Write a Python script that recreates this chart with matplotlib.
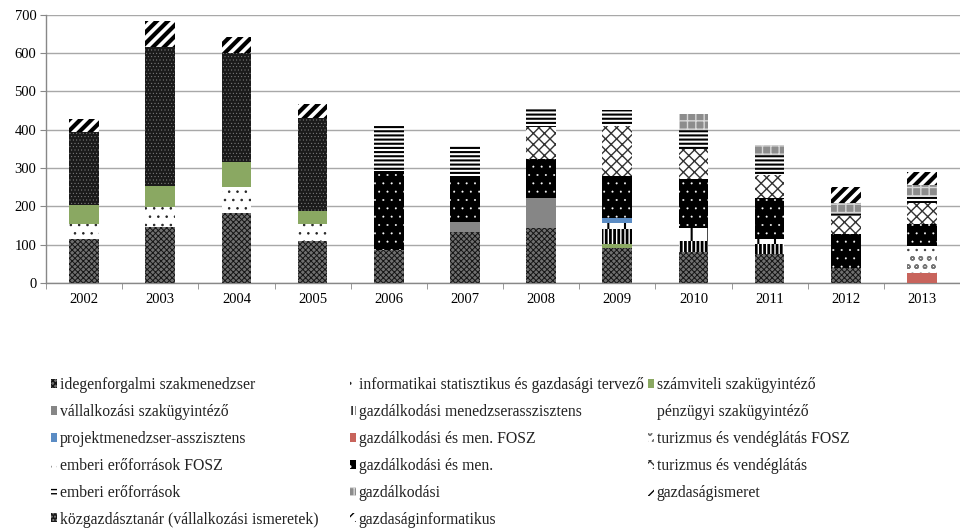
import numpy as np
import matplotlib
matplotlib.use("Agg")
import matplotlib.pyplot as plt

plt.rcParams["font.family"] = ["Liberation Serif", "DejaVu Serif"]
plt.rcParams["hatch.linewidth"] = 1.0

YEARS = ["2002", "2003", "2004", "2005", "2006", "2007",
         "2008", "2009", "2010", "2011", "2012", "2013"]

# series in stacking order (bottom -> top), one value per year
idegenforgalmi       = [115, 145, 182, 110, 86, 134, 143, 92, 81, 75, 38, 0]
informatikai         = [39, 54, 69, 44, 0, 0, 0, 0, 0, 0, 0, 0]
szamviteli           = [50, 54, 65, 34, 0, 0, 0, 11, 0, 0, 0, 0]
vallalkozasi         = [0, 0, 0, 0, 0, 26, 79, 0, 0, 0, 0, 0]
gazd_men_asszisztens = [0, 0, 0, 0, 0, 0, 0, 39, 29, 28, 0, 0]
penzugyi             = [0, 0, 0, 0, 0, 0, 0, 15, 34, 13, 0, 0]
projektmenedzser     = [0, 0, 0, 0, 0, 0, 0, 13, 0, 0, 0, 0]
gazd_men_fosz        = [0, 0, 0, 0, 0, 0, 0, 0, 0, 0, 0, 26]
turizmus_fosz        = [0, 0, 0, 0, 0, 0, 0, 0, 0, 0, 0, 46]
emberi_fosz          = [0, 0, 0, 0, 0, 0, 0, 0, 0, 0, 0, 25]
gazd_men             = [0, 0, 0, 0, 207, 120, 103, 110, 127, 105, 91, 57]
turizmus             = [0, 0, 0, 0, 0, 0, 83, 130, 78, 61, 46, 54]
emberi               = [0, 0, 0, 0, 121, 80, 47, 42, 51, 52, 8, 20]
gazdalkodasi         = [0, 0, 0, 0, 0, 0, 0, 0, 42, 26, 25, 28]
gazdasagismeret      = [0, 0, 0, 0, 0, 0, 0, 0, 0, 0, 42, 35]
kozgazdasztanar      = [189, 363, 284, 243, 0, 0, 0, 0, 0, 0, 0, 0]
gazdasaginformatikus = [35, 68, 42, 37, 0, 0, 0, 0, 0, 0, 0, 0]

LABELS = [
    "idegenforgalmi szakmenedzser",
    "informatikai statisztikus és gazdasági tervező",
    "számviteli szakügyintéző",
    "vállalkozási szakügyintéző",
    "gazdálkodási menedzserasszisztens",
    "pénzügyi szakügyintéző",
    "projektmenedzser-asszisztens",
    "gazdálkodási és men. FOSZ",
    "turizmus és vendéglátás FOSZ",
    "emberi erőforrások FOSZ",
    "gazdálkodási és men.",
    "turizmus és vendéglátás",
    "emberi erőforrások",
    "gazdálkodási",
    "gazdaságismeret",
    "közgazdásztanár (vállalkozási ismeretek)",
    "gazdaságinformatikus",
]
SERIES = [idegenforgalmi, informatikai, szamviteli, vallalkozasi,
          gazd_men_asszisztens, penzugyi, projektmenedzser, gazd_men_fosz,
          turizmus_fosz, emberi_fosz, gazd_men, turizmus, emberi,
          gazdalkodasi, gazdasagismeret, kozgazdasztanar, gazdasaginformatikus]

# (facecolor, hatch, hatch colour, hatch linewidth)
STYLES = [
    ("#707070", "xxxxxx", "#151515", 0.7),
    ("white", "..", "#222222", 0.6),
    ("#8aa862", None, None, 1.0),
    ("#868686", None, None, 1.0),
    ("white", "||||", "black", 2.0),
    ("white", "|", "black", 1.5),
    ("#5b8cc4", None, None, 1.0),
    ("#c8645c", None, None, 1.0),
    ("white", "oo", "#777777", 1.0),
    ("white", "..", "#333333", 0.5),
    ("black", "..", "white", 0.2),
    ("white", "xxx", "#333333", 1.0),
    ("white", "----", "black", 1.5),
    ("#8c8c8c", "++", "#d8d8d8", 1.0),
    ("white", "///", "black", 3.0),
    ("#1a1a1a", ".....", "#8c8c8c", 0.3),
    ("white", "///", "black", 3.0),
]

fig = plt.figure(figsize=(9.6, 5.3), dpi=100)
ax = fig.add_axes([0.048, 0.466, 0.952, 0.506])

x = np.arange(len(YEARS))
bottom = np.zeros(len(YEARS))
handles = []
for vals, lbl, (fc, hatch, hc, hlw) in zip(SERIES, LABELS, STYLES):
    vals = np.array(vals, dtype=float)
    with plt.rc_context({"hatch.linewidth": hlw}):
        bars = ax.bar(x, vals, width=0.39, bottom=bottom, color=fc,
                      hatch=hatch, edgecolor=hc if hc else fc,
                      linewidth=0, label=lbl, zorder=3)
    for b in bars:
        if hasattr(b, "set_hatch_linewidth"):
            b.set_hatch_linewidth(hlw)
    handles.append(bars)
    bottom += vals

ax.set_xlim(-0.5, 11.42)
ax.set_ylim(0, 700)
ax.set_yticks(range(0, 701, 100))
ax.set_xticks(x)
ax.set_xticklabels(YEARS, fontsize=10.5)
ax.set_xticks(np.arange(-0.5, 12, 1), minor=True)
ax.tick_params(axis="x", which="major", length=0, pad=7)
ax.tick_params(axis="x", which="minor", length=4, color="#888888", direction="out")
ax.tick_params(axis="y", length=4, color="#888888", labelsize=10.5, pad=3)
ax.grid(axis="y", color="#a8a8a8", lw=1.0, zorder=0)
for s in ["top", "right"]:
    ax.spines[s].set_visible(False)
for s in ["left", "bottom"]:
    ax.spines[s].set_color("#888888")
    ax.spines[s].set_linewidth(1.0)

# legend: 3 columns, filled row by row -> one legend per column
col_x = [51 / 960, 350 / 960, 648 / 960]
for c, cx in enumerate(col_x):
    idx = list(range(c, 17, 3))
    leg = fig.legend([handles[i] for i in idx], [LABELS[i] for i in idx],
                     loc="upper left", bbox_to_anchor=(cx, 0.288),
                     frameon=False, fontsize=11.3, handlelength=0.4,
                     handleheight=0.5, handletextpad=0.15, labelspacing=0.69,
                     borderaxespad=0, borderpad=0)
    for t in leg.get_texts():
        t.set_color("#222222")

fig.savefig("out.png", dpi=100)
plt.close(fig)
